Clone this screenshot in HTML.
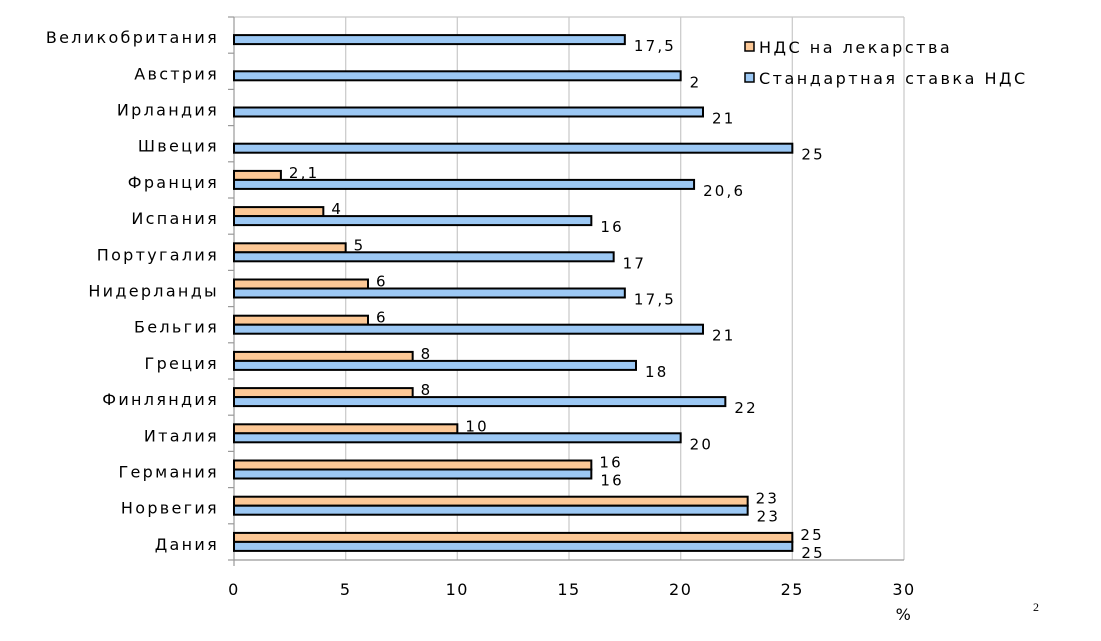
<!DOCTYPE html>
<html><head><meta charset="utf-8"><style>body{margin:0;background:#fff}svg{display:block}</style></head><body>
<svg width="1101" height="641" xmlns="http://www.w3.org/2000/svg" font-family="'DejaVu Sans','Liberation Sans',sans-serif">
<rect width="1101" height="641" fill="#fff"/>
<g stroke="#c8c8c8" stroke-width="1.2">
<line x1="345.7" y1="17" x2="345.7" y2="560"/>
<line x1="457.3" y1="17" x2="457.3" y2="560"/>
<line x1="569" y1="17" x2="569" y2="560"/>
<line x1="680.7" y1="17" x2="680.7" y2="560"/>
<line x1="792.3" y1="17" x2="792.3" y2="560"/>
<line x1="904" y1="17" x2="904" y2="560"/>
<line x1="234" y1="17" x2="904" y2="17"/>
</g>
<g stroke="#999" stroke-width="1.2">
<line x1="234" y1="17" x2="234" y2="566"/>
<line x1="234" y1="560" x2="904" y2="560"/>
<line x1="228" y1="17" x2="234" y2="17"/><line x1="228" y1="53.2" x2="234" y2="53.2"/><line x1="228" y1="89.4" x2="234" y2="89.4"/><line x1="228" y1="125.6" x2="234" y2="125.6"/><line x1="228" y1="161.8" x2="234" y2="161.8"/><line x1="228" y1="198" x2="234" y2="198"/><line x1="228" y1="234.2" x2="234" y2="234.2"/><line x1="228" y1="270.4" x2="234" y2="270.4"/><line x1="228" y1="306.6" x2="234" y2="306.6"/><line x1="228" y1="342.8" x2="234" y2="342.8"/><line x1="228" y1="379" x2="234" y2="379"/><line x1="228" y1="415.2" x2="234" y2="415.2"/><line x1="228" y1="451.4" x2="234" y2="451.4"/><line x1="228" y1="487.6" x2="234" y2="487.6"/><line x1="228" y1="523.8" x2="234" y2="523.8"/><line x1="228" y1="560" x2="234" y2="560"/>
</g>
<g id="bars" stroke="#000" stroke-width="2"></g>
<g font-size="16" fill="#000" text-anchor="end" id="cats" letter-spacing="2.3"></g>
<g font-size="15" fill="#000" id="vals" letter-spacing="2.2"></g>
<g font-size="16" fill="#000" text-anchor="middle" letter-spacing="1.5">
<text x="234" y="595">0</text><text x="345.7" y="595">5</text><text x="457.3" y="595">10</text><text x="569" y="595">15</text><text x="680.7" y="595">20</text><text x="792.3" y="595">25</text><text x="904" y="595">30</text>
<text x="904" y="620">%</text>
</g>
<text x="1033" y="611" font-size="12" font-family="'Liberation Serif',serif">2</text>
<rect x="745" y="42" width="9" height="9" fill="#fcc896" stroke="#000" stroke-width="1.5"/>
<rect x="745" y="73" width="9" height="9" fill="#9cc8f4" stroke="#000" stroke-width="1.5"/>
<text x="759" y="53" font-size="16" letter-spacing="2.5">НДС на лекарства</text>
<text x="759" y="84" font-size="16" letter-spacing="2.5">Стандартная ставка НДС</text>
<script>
var d=[["Великобритания",null,17.5,"17,5"],["Австрия",null,20,"2"],["Ирландия",null,21,"21"],["Швеция",null,25,"25"],["Франция",2.1,20.6,"20,6","2,1"],["Испания",4,16,"16"],["Португалия",5,17,"17"],["Нидерланды",6,17.5,"17,5"],["Бельгия",6,21,"21"],["Греция",8,18,"18"],["Финляндия",8,22,"22"],["Италия",10,20,"20"],["Германия",16,16,"16"],["Норвегия",23,23,"23"],["Дания",25,25,"25"]];
var ns="http://www.w3.org/2000/svg",B=document.getElementById("bars"),C=document.getElementById("cats"),V=document.getElementById("vals");
function el(p,t,a,txt){var e=document.createElementNS(ns,t);for(var k in a)e.setAttribute(k,a[k]);if(txt!=null)e.textContent=txt;p.appendChild(e);}
var s=670/30;
d.forEach(function(r,i){var c=35.1+i*36.2;
el(C,"text",{x:219,y:c+8},r[0]);
if(r[1]!=null){var w=r[1]*s;el(B,"rect",{x:234,y:c-9,width:w,height:9,fill:"#fcc896"});el(V,"text",{x:234+w+8,y:c-2},r[4]||String(r[1]));}
var w2=r[2]*s;el(B,"rect",{x:234,y:c,width:w2,height:9,fill:"#9cc8f4"});el(V,"text",{x:234+w2+9,y:c+16},r[3]);
});
</script>
</svg>
</body></html>
